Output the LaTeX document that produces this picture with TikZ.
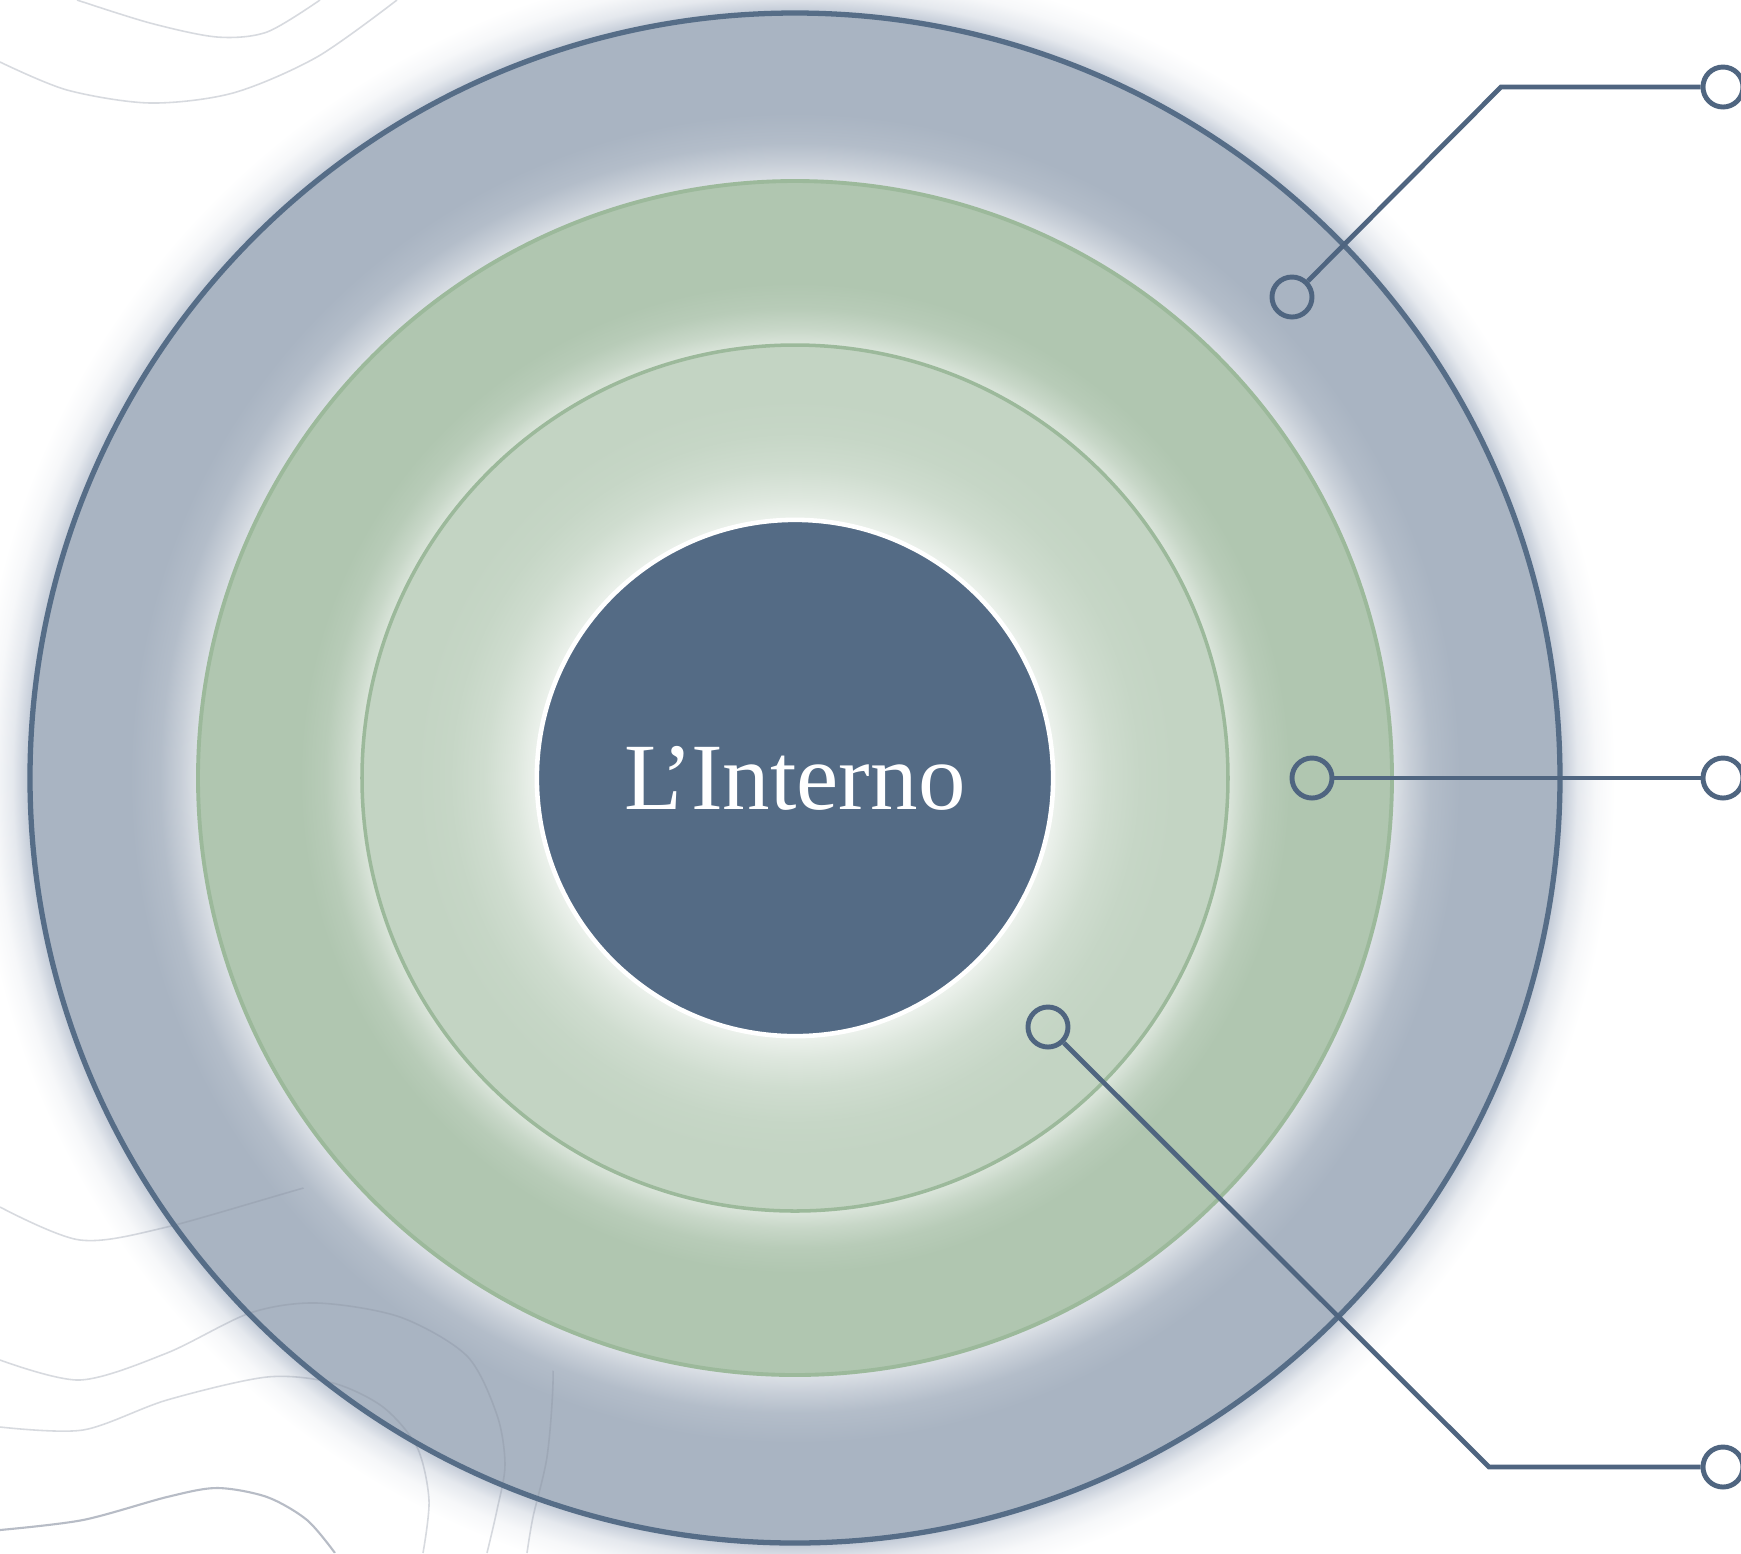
\documentclass[tikz,border=0pt]{standalone}
\usepackage{fontspec}
\setmainfont{Liberation Serif}
\definecolor{ringblue}{HTML}{A9B4C2}
\definecolor{edgeblue}{HTML}{566D87}
\definecolor{ringgreen}{HTML}{B0C6B0}
\definecolor{palegreen}{HTML}{C3D4C3}
\definecolor{greenedge}{HTML}{9CB99B}
\definecolor{coreblue}{HTML}{546B85}
\definecolor{wire}{HTML}{4F6580}
\definecolor{topo}{HTML}{8890A0}
\definecolor{shadowblue}{HTML}{8898B0}
\colorlet{bgA}{ringblue!40!white}
\colorlet{bgB}{ringblue!65!white}
\colorlet{bgC}{ringblue!88!white}
\colorlet{shA}{shadowblue!52!white}
\colorlet{shB}{shadowblue!22!white}
\colorlet{shC}{shadowblue!7!white}
\colorlet{ggA}{ringgreen!45!white}
\colorlet{ggB}{ringgreen!70!white}
\colorlet{ggC}{ringgreen!90!white}
\colorlet{pgA}{palegreen!30!white}
\colorlet{pgB}{palegreen!55!white}
\colorlet{pgC}{palegreen!80!white}
\colorlet{pgD}{palegreen!95!white}
\pgfdeclareradialshading{bluedisc}{\pgfpoint{0bp}{0bp}}{%
  color(0bp)=(bgA); color(18.20bp)=(bgA); color(18.75bp)=(bgB); color(19.36bp)=(bgC);
  color(20.27bp)=(ringblue); color(23.30bp)=(ringblue); color(23.36bp)=(shA);
  color(23.85bp)=(shB); color(24.4bp)=(shC); color(25bp)=(white); color(50bp)=(white)}
\pgfdeclareradialshading{greendisc}{\pgfpoint{0bp}{0bp}}{%
  color(0bp)=(ggA); color(18.13bp)=(ggA); color(18.84bp)=(ggB); color(19.68bp)=(ggC);
  color(20.73bp)=(ringgreen); color(25bp)=(ringgreen); color(50bp)=(ringgreen)}
\pgfdeclareradialshading{palediscshade}{\pgfpoint{0bp}{0bp}}{%
  color(0bp)=(pgA); color(14.90bp)=(pgA); color(16.17bp)=(pgB); color(17.90bp)=(pgC);
  color(19.92bp)=(pgD); color(21.94bp)=(palegreen); color(25bp)=(palegreen); color(50bp)=(palegreen)}
\tikzset{
  topoline/.style={draw=topo, opacity=0.33, line width=0.45pt},
  topodark/.style={draw=topo, opacity=0.6, line width=0.6pt},
  port/.style={circle, draw=wire, line width=1.4pt, minimum size=0.4cm, inner sep=0pt},
  wireline/.style={draw=wire, line width=1.35pt, line join=miter},
}
\begin{document}
\begin{tikzpicture}[x=0.01cm, y=-0.01cm]
\fill[white] (0,0) rectangle (1741,1553);
\useasboundingbox (0,0) rectangle (1741,1553);
\coordinate (c) at (795,778);

% outer ring with its soft shadow and inner glow
\shade[shading=bluedisc] (c) circle[radius=820];

% faint contour lines (kept out of the glow round the green ring)
\begin{scope}[even odd rule]
\clip (0,0) rectangle (1741,1553) (c) circle[radius=640];
\draw[topoline] plot[smooth] coordinates {(77,0) (150,23) (217,37) (267,32) (320,0)};
\draw[topoline] plot[smooth] coordinates {(0,62) (67,90) (150,103) (233,93) (317,57) (397,0)};
\draw[topoline] plot[smooth] coordinates {(0,1207) (80,1240) (167,1227) (333,1180) (420,1165)};
\draw[topoline] plot[smooth] coordinates {(0,1360) (80,1380) (167,1353) (250,1313) (317,1303) (400,1317) (467,1356) (497,1415) (505,1465) (497,1510) (487,1553)};
\draw[topoline] plot[smooth] coordinates {(0,1427) (83,1430) (167,1400) (267,1377) (333,1383) (383,1407) (417,1447) (429,1500) (423,1553)};
\draw[topodark] plot[smooth] coordinates {(0,1530) (83,1520) (167,1497) (217,1488) (267,1497) (307,1520) (335,1553)};
\draw[topoline] plot[smooth] coordinates {(552,1300) (553,1383) (547,1457) (533,1517) (527,1553)};
\end{scope}

\draw[edgeblue, line width=1.5pt] (c) circle[radius=765];

% green ring
\shade[shading=greendisc] (c) circle[radius=597];
\draw[greenedge, line width=1.1pt] (c) circle[radius=597];

% pale green disc
\shade[shading=palediscshade] (c) circle[radius=433];
\draw[greenedge, line width=1pt] (c) circle[radius=433];

% core
\node[circle, fill=coreblue, draw=white, line width=1.3pt, minimum size=5.16cm, inner sep=0pt,
      text=white, font=\fontsize{27}{31}\selectfont] (core) at (c) {L\kern-0.22em’\kern-0.02em Interno};

% connectors
\node[port] (s1) at (1292,297) {};
\coordinate (e1) at (1501,87);
\node[port] (t1) at (1723,87) {};
\draw[wireline] (s1) -- (e1) -- (t1);

\node[port] (s2) at (1312,778) {};
\node[port] (t2) at (1723,778) {};
\draw[wireline] (s2) -- (t2);

\node[port] (s3) at (1048,1027) {};
\coordinate (e3) at (1489,1467);
\node[port] (t3) at (1723,1467) {};
\draw[wireline] (s3) -- (e3) -- (t3);
\end{tikzpicture}
\end{document}
